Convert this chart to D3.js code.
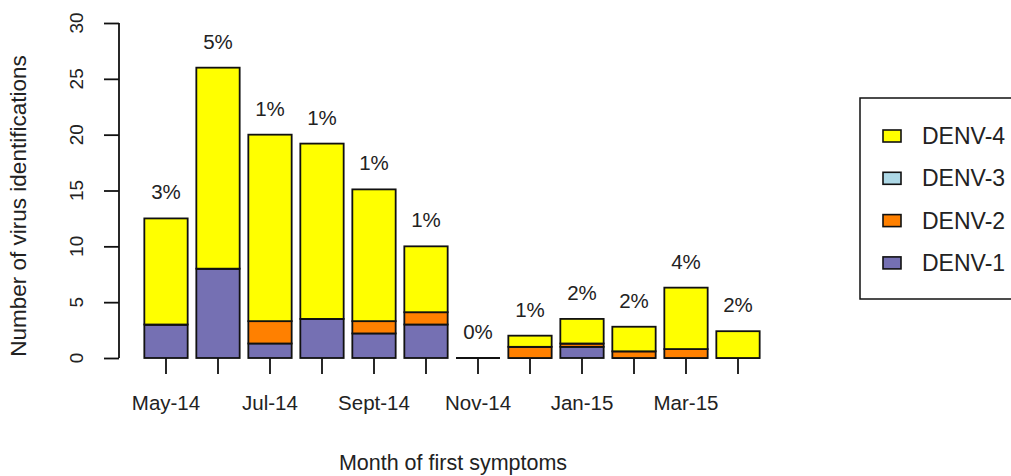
<!DOCTYPE html>
<html>
<head>
<meta charset="utf-8">
<script src="https://cdn.jsdelivr.net/npm/d3@7"></script>
<style>
  html, body { margin: 0; padding: 0; background: #fff; }
  svg text { font-family: "Liberation Sans", Arial, sans-serif; fill: #222; }
</style>
</head>
<body>
<svg id="chart" width="1011" height="476"></svg>
<script>
const months = ["May-14","Jun-14","Jul-14","Aug-14","Sept-14","Oct-14","Nov-14","Dec-14","Jan-15","Feb-15","Mar-15","Apr-15"];
const tickLabels = ["May-14","","Jul-14","","Sept-14","","Nov-14","","Jan-15","","Mar-15",""];
const denv1 = [3, 8, 1.3, 3.5, 2.2, 3, 0, 0, 1, 0, 0, 0];
const denv2 = [0, 0, 2, 0, 1.1, 1.1, 0, 1, 0.3, 0.6, 0.8, 0];
const denv3 = [0, 0, 0, 0, 0, 0, 0, 0, 0, 0, 0, 0];
const denv4 = [9.5, 18, 16.7, 15.7, 11.8, 5.9, 0, 1, 2.2, 2.2, 5.5, 2.4];
const percents = ["3%","5%","1%","1%","1%","1%","0%","1%","2%","2%","4%","2%"];
const yTicks = [0, 5, 10, 15, 20, 25, 30];
const seriesNames = ["DENV-1","DENV-2","DENV-3","DENV-4"];
const seriesValues = [denv1, denv2, denv3, denv4];
const seriesColors = ["#7570b3", "#ff8000", "#add8e6", "#ffff00"];

const svg = d3.select("#chart");

const x = d3.scaleBand().domain(months).range([140, 764]).paddingInner(1/6).paddingOuter(1/12);
const y = d3.scaleLinear().domain([0, 30]).range([358, 23]);

// stacked data
const table = months.map((m, i) => {
  const row = { month: m };
  seriesNames.forEach((s, k) => row[s] = seriesValues[k][i]);
  return row;
});
const stack = d3.stack().keys(seriesNames)(table);

const g = svg.append("g");
stack.forEach((layer, k) => {
  layer.forEach((d, i) => {
    const x0 = x(months[i]), w = x.bandwidth();
    const y0 = y(d[0]), y1 = y(d[1]);
    if (d[1] - d[0] > 0) {
      g.append("rect")
        .attr("x", x0).attr("y", y1)
        .attr("width", w).attr("height", y0 - y1)
        .attr("fill", seriesColors[k])
        .attr("stroke", "#111").attr("stroke-width", 1.8);
    } else {
      g.append("line")
        .attr("x1", x0).attr("x2", x0 + w)
        .attr("y1", y0).attr("y2", y0)
        .attr("stroke", "#111").attr("stroke-width", 1.8);
    }
  });
});

// percent labels
const totals = table.map(r => seriesNames.reduce((a, s) => a + r[s], 0));
svg.append("g").selectAll("text").data(months).join("text")
  .attr("x", m => x(m) + x.bandwidth() / 2)
  .attr("y", (m, i) => y(totals[i]) - 19)
  .attr("text-anchor", "middle")
  .attr("font-size", 20.5)
  .text((m, i) => percents[i]);

// y axis
const yAxis = d3.axisLeft(y).tickValues(yTicks).tickSize(15).tickSizeOuter(0).tickFormat("");
const ya = svg.append("g").attr("transform", "translate(119,0)").call(yAxis);
ya.selectAll("path, line").attr("stroke", "#111").attr("stroke-width", 1.8);
ya.select("path.domain").attr("d", `M0,${y(0)}V${y(30)}`);
svg.append("g").selectAll("text").data(yTicks).join("text")
  .attr("transform", d => `translate(83,${y(d)}) rotate(-90)`)
  .attr("text-anchor", "middle")
  .attr("font-size", 19)
  .text(d => d);

// x axis ticks
const xAxis = d3.axisBottom(x).tickSize(16).tickSizeOuter(0).tickFormat("");
const xa = svg.append("g").attr("transform", `translate(0,${y(0)})`).call(xAxis);
xa.select("path.domain").remove();
xa.selectAll("line").attr("stroke", "#111").attr("stroke-width", 1.8);
svg.append("g").selectAll("text").data(months).join("text")
  .attr("x", m => x(m) + x.bandwidth() / 2)
  .attr("y", 410)
  .attr("text-anchor", "middle")
  .attr("font-size", 20.5)
  .text((m, i) => tickLabels[i]);

// axis titles
svg.append("text")
  .attr("x", 453).attr("y", 470)
  .attr("text-anchor", "middle")
  .attr("font-size", 21.5)
  .text("Month of first symptoms");
svg.append("text")
  .attr("transform", "translate(26,206) rotate(-90)")
  .attr("text-anchor", "middle")
  .attr("font-size", 22.5)
  .text("Number of virus identifications");

// legend
const lg = svg.append("g");
lg.append("rect").attr("x", 860).attr("y", 98).attr("width", 200).attr("height", 201)
  .attr("fill", "#fff").attr("stroke", "#111").attr("stroke-width", 1.5);
const legendOrder = [3, 2, 1, 0];
legendOrder.forEach((k, j) => {
  const cy = 136 + j * 42.3;
  lg.append("rect").attr("x", 883).attr("y", cy - 6).attr("width", 18).attr("height", 12)
    .attr("fill", seriesColors[k]).attr("stroke", "#111").attr("stroke-width", 1.6);
  lg.append("text").attr("x", 922).attr("y", cy + 8)
    .attr("font-size", 23)
    .text(seriesNames[k]);
});
</script>
</body>
</html>
